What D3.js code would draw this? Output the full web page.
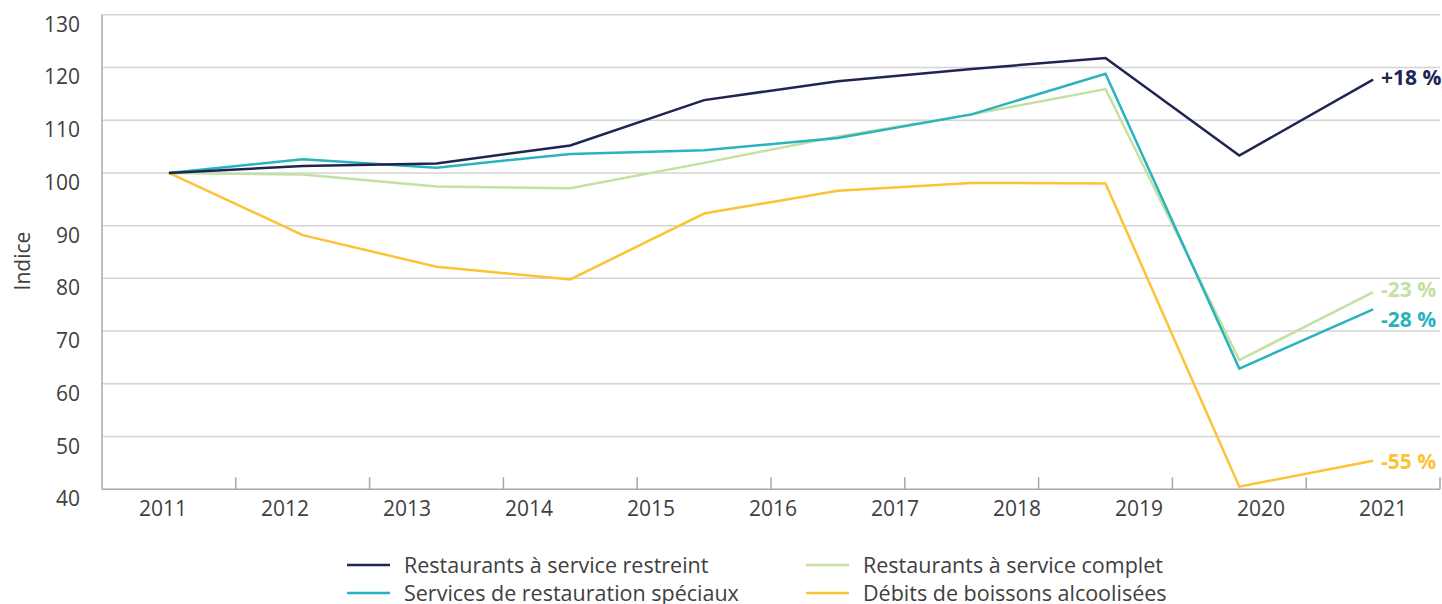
<!DOCTYPE html>
<html lang="fr">
<head>
  <meta charset="UTF-8">
  <title>Indice - restauration</title>
  <script src="https://d3js.org/d3.v7.min.js"></script>
  <style>
    body { margin: 0; background: #fff; }
    svg { font-family: "Open Sans", sans-serif; }
    .grid line { stroke: #d4d4d4; stroke-width: 1.5; }
    .tick-label { fill: #404040; font-size: 21px; }
    .legend-label { fill: #404040; font-size: 21.5px; }
    .end-label { font-size: 21px; font-weight: bold; }
  </style>
</head>
<body>
  <svg width="1442" height="604"></svg>

  <script>
    // year labels under the axis (11 of them) and the 10 data points
    const yearLabels = ["2011", "2012", "2013", "2014", "2015", "2016", "2017", "2018", "2019", "2020", "2021"];
    const pointIdx = [0, 1, 2, 3, 4, 5, 6, 7, 8, 9];
    const yTicks = [40, 50, 60, 70, 80, 90, 100, 110, 120, 130];

    const seriesNames = [
      "Restaurants à service restreint",
      "Restaurants à service complet",
      "Services de restauration spéciaux",
      "Débits de boissons alcoolisées"
    ];
    const restreint = [100, 101.3, 101.8, 105.2, 113.8, 117.4, 119.7, 121.8, 103.3, 117.7];
    const complet   = [100, 99.7, 97.4, 97.1, 101.9, 106.9, 111.1, 115.9, 64.5, 77.4];
    const speciaux  = [100, 102.6, 101.0, 103.6, 104.3, 106.6, 111.1, 118.8, 62.9, 74.1];
    const debits    = [100, 88.2, 82.2, 79.8, 92.3, 96.6, 98.1, 98.0, 40.5, 45.4];
    const endLabels = ["+18 %", "-23 %", "-28 %", "-55 %"];
    const colors = ["#1e2553", "#c4e0a3", "#2ab3be", "#fcc334"];

    const svg = d3.select("svg");
    const pLeft = 102, pRight = 1440, pTop = 14.7, pBottom = 489.3;

    // points and tick marks use 10 bands, the year labels 11
    const x = d3.scaleBand().domain(pointIdx).range([pLeft, pRight]);
    const xLab = d3.scaleBand().domain(yearLabels).range([pLeft, 1444]);
    const y = d3.scaleLinear().domain([40, 130]).range([pBottom, pTop]);

    // gridlines
    svg.append("g").attr("class", "grid")
      .selectAll("line")
      .data(yTicks.filter(d => d > 40))
      .join("line")
        .attr("x1", pLeft).attr("x2", pRight)
        .attr("y1", d => y(d)).attr("y2", d => y(d));

    // y labels (sit a bit below their line, as in the original)
    svg.append("g")
      .selectAll("text")
      .data(yTicks)
      .join("text")
        .attr("class", "tick-label")
        .attr("x", 80)
        .attr("y", d => y(d) + 17)
        .attr("text-anchor", "end")
        .text(d => d);

    svg.append("text")
      .attr("class", "tick-label")
      .attr("transform", `translate(30, 261) rotate(-90)`)
      .attr("text-anchor", "middle")
      .text("Indice");

    // axis lines
    svg.append("line")
      .attr("x1", pLeft).attr("x2", pLeft)
      .attr("y1", pTop).attr("y2", pBottom)
      .attr("stroke", "#a8a8a8").attr("stroke-width", 1.5);
    svg.append("line")
      .attr("x1", pLeft).attr("x2", pRight)
      .attr("y1", pBottom).attr("y2", pBottom)
      .attr("stroke", "#a8a8a8").attr("stroke-width", 1.5);

    // tick marks at band edges, pointing up
    svg.append("g")
      .selectAll("line")
      .data(pointIdx)
      .join("line")
        .attr("x1", d => x(d) + x.bandwidth())
        .attr("x2", d => x(d) + x.bandwidth())
        .attr("y1", pBottom).attr("y2", pBottom - 12)
        .attr("stroke", "#a8a8a8").attr("stroke-width", 1.5);

    svg.append("g")
      .selectAll("text")
      .data(yearLabels)
      .join("text")
        .attr("class", "tick-label")
        .attr("x", d => xLab(d) + xLab.bandwidth() / 2)
        .attr("y", 515.5)
        .attr("text-anchor", "middle")
        .text(d => d);

    // lines
    const allSeries = [restreint, complet, speciaux, debits];
    const line = d3.line()
      .x((d, i) => x(pointIdx[i]) + x.bandwidth() / 2)
      .y(d => y(d));

    // draw order: green, yellow, teal, navy
    [1, 3, 2, 0].forEach(k => {
      svg.append("path")
        .datum(allSeries[k])
        .attr("fill", "none")
        .attr("stroke", colors[k])
        .attr("stroke-width", 2.5)
        .attr("d", line);
    });

    // end labels
    const nudge = [-1.5, -2, 10, 1];
    allSeries.forEach((s, k) => {
      const last = s.length - 1;
      svg.append("text")
        .attr("class", "end-label")
        .attr("fill", colors[k])
        .attr("x", 1381)
        .attr("y", y(s[last]) + nudge[k])
        .attr("dy", "0.35em")
        .text(endLabels[k]);
    });

    // legend: left column restreint / spéciaux, right column complet / débits
    const legendOrder = [0, 1, 2, 3];
    const lg = svg.append("g")
      .selectAll("g")
      .data(legendOrder)
      .join("g")
        .attr("transform", (d, i) => `translate(${i % 2 === 0 ? 347 : 806}, ${i < 2 ? 565 : 593})`);
    lg.append("line")
      .attr("x1", 0).attr("x2", 43)
      .attr("stroke", d => colors[d])
      .attr("stroke-width", 2.5);
    lg.append("text")
      .attr("class", "legend-label")
      .attr("x", 57)
      .attr("y", 8)
      .text(d => seriesNames[d]);
  </script>
</body>
</html>
